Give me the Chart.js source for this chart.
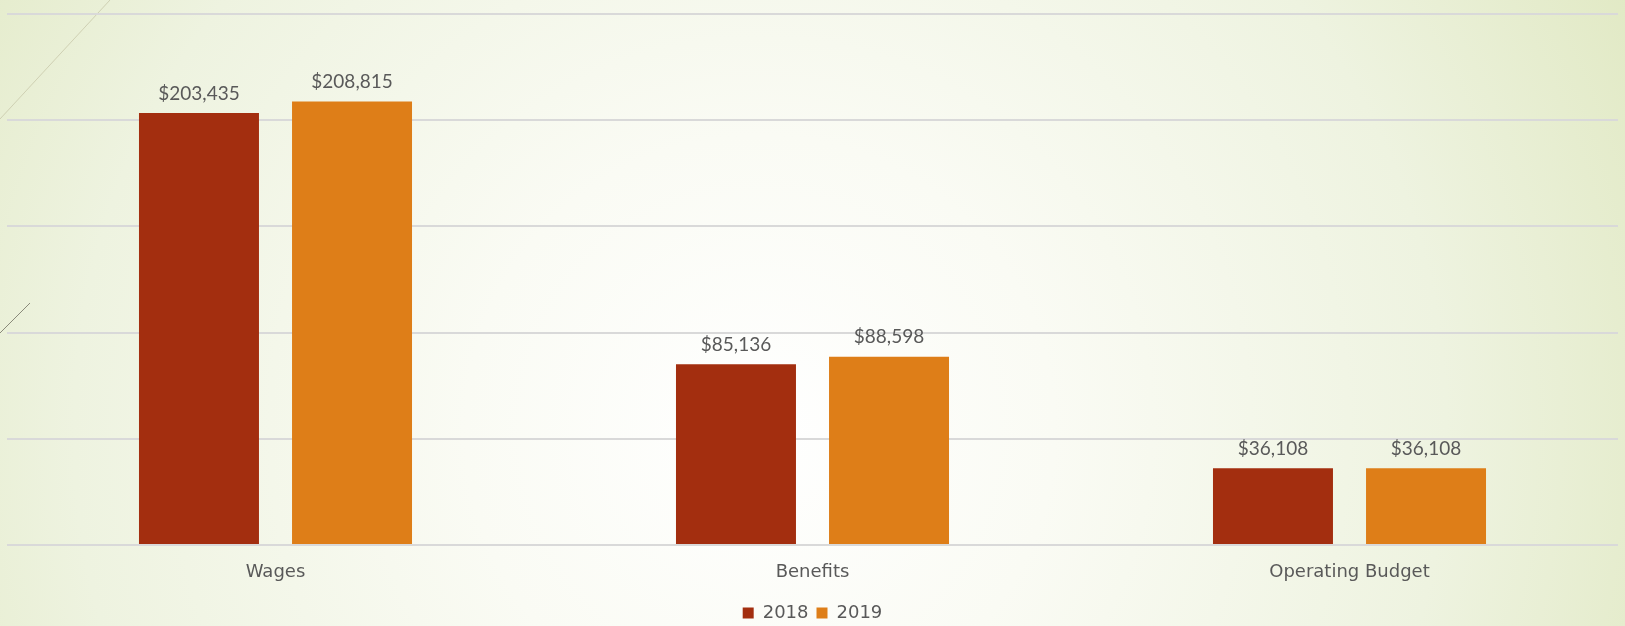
<!DOCTYPE html>
<html>
<head>
<meta charset="utf-8">
<script src="https://cdn.jsdelivr.net/npm/chart.js@4"></script>
<style>
  html, body { margin: 0; padding: 0; background: #f6f8ee; }
  #wrap { width: 1625px; height: 626px; }
</style>
</head>
<body>
<div id="wrap"><canvas id="budgetChart"></canvas></div>
<script>
const categories = ['Wages', 'Benefits', 'Operating Budget'];
const values2018 = [203435, 85136, 36108];
const values2019 = [208815, 88598, 36108];
const yTicks = [0, 50000, 100000, 150000, 200000, 250000];

// slide-style background + the two thin decorative strokes
const backdrop = {
    id: 'backdrop',
    beforeDraw(chart) {
        const c = chart.ctx;
        const w = chart.width, h = chart.height;
        c.save();
        const g = c.createRadialGradient(760, 430, 0, 760, 430, 980);
        g.addColorStop(0, '#ffffff');
        g.addColorStop(0.3, '#fafbf4');
        g.addColorStop(0.7, '#eef3e0');
        g.addColorStop(1, '#e1e9c4');
        c.fillStyle = g;
        c.fillRect(0, 0, w, h);
        c.strokeStyle = 'rgba(200, 200, 170, 0.8)';
        c.lineWidth = 1;
        c.beginPath(); c.moveTo(0, 119); c.lineTo(110, 0); c.stroke();
        c.strokeStyle = '#8a8a7a';
        c.beginPath(); c.moveTo(0, 333); c.lineTo(30, 303); c.stroke();
        c.restore();
    }
};

// dollar labels above each bar
const valueLabels = {
    id: 'valueLabels',
    afterDatasetsDraw(chart) {
        const c = chart.ctx;
        c.save();
        c.font = '19px Lato';
        c.fillStyle = '#595959';
        c.textAlign = 'center';
        c.textBaseline = 'bottom';
        chart.data.datasets.forEach((ds, i) => {
            chart.getDatasetMeta(i).data.forEach((bar, j) => {
                c.fillText('$' + ds.data[j].toLocaleString('en-US'), bar.x, bar.y - 10);
            });
        });
        c.restore();
    }
};

new Chart(document.getElementById('budgetChart'), {
    type: 'bar',
    data: {
        labels: categories,
        datasets: [
            { label: '2018', data: values2018, backgroundColor: '#a32e0f' },
            { label: '2019', data: values2019, backgroundColor: '#de7e18' }
        ]
    },
    options: {
        responsive: true,
        maintainAspectRatio: false,
        animation: false,
        categoryPercentage: 0.57,
        barPercentage: 0.784,
        layout: { padding: { left: 7, right: 7, top: 14, bottom: -6 } },
        scales: {
            x: {
                grid: { display: false },
                border: { display: false },
                ticks: { color: '#595959', font: { family: 'DejaVu Sans', size: 18 }, padding: 9 },
                afterFit(axis) { axis.height = 51; }
            },
            y: {
                min: 0,
                max: 250000,
                afterBuildTicks(axis) { axis.ticks = yTicks.map(v => ({ value: v })); },
                ticks: { display: false },
                border: { display: false },
                grid: { color: '#d9d9d9', lineWidth: 2, drawTicks: false }
            }
        },
        plugins: {
            legend: {
                position: 'bottom',
                labels: {
                    boxWidth: 11,
                    boxHeight: 11,
                    color: '#595959',
                    font: { family: 'DejaVu Sans', size: 18 },
                    padding: 8
                }
            },
            tooltip: { enabled: false }
        }
    },
    plugins: [backdrop, valueLabels]
});
</script>
</body>
</html>
